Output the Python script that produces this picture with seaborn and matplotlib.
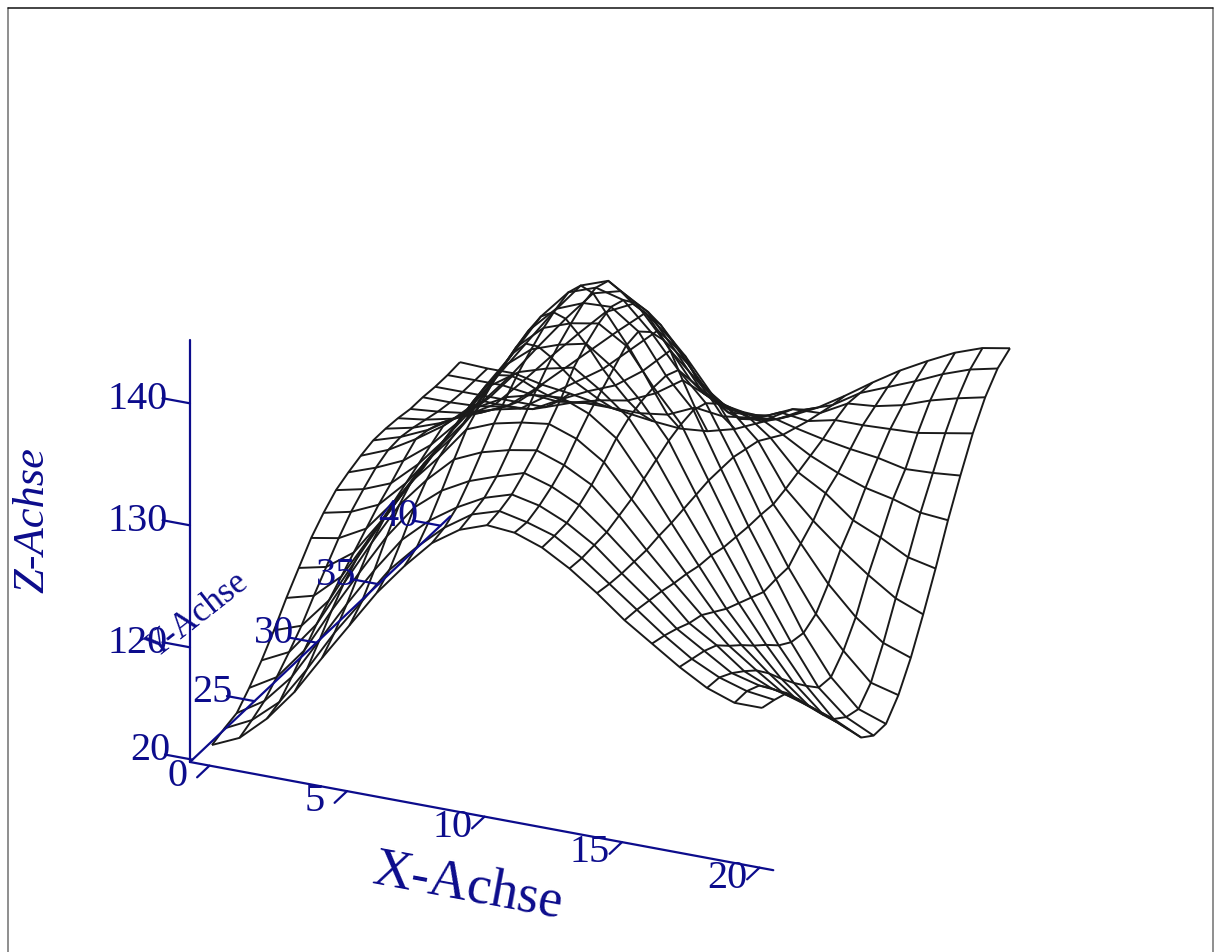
import matplotlib
matplotlib.use("Agg")
import matplotlib.pyplot as plt
from matplotlib.lines import Line2D
import numpy as np
import seaborn as sns

x_grid = [0, 1, 2, 3, 4, 5, 6, 7, 8, 9, 10, 11, 12, 13, 14, 15, 16, 17, 18, 19, 20]
y_grid = [20, 21, 22, 23, 24, 25, 26, 27, 28, 29, 30, 31, 32, 33, 34, 35, 36, 37, 38, 39, 40]

# one row per x value, one entry per y value
z_values = [
    [112.1, 112.5, 112.8, 113.9, 115.2, 116.7, 118.4, 119.9, 121.4, 122.5, 123.4, 123.9, 124.3, 124.6, 124.6, 124.5, 124.3, 124.3, 124.2, 124.2, 124.3],
    [113.1, 113.6, 114.2, 115.2, 116.3, 117.5, 119.0, 120.4, 121.8, 123.0, 123.9, 124.7, 125.2, 125.3, 125.1, 124.8, 124.5, 124.3, 124.2, 124.2, 124.2],
    [115.1, 115.5, 116.6, 117.8, 119.0, 120.0, 121.0, 122.0, 123.0, 124.0, 124.8, 125.7, 126.5, 126.3, 125.9, 125.3, 124.8, 124.4, 124.2, 124.2, 124.2],
    [117.7, 118.6, 120.0, 121.5, 122.8, 123.8, 124.5, 125.0, 125.6, 126.2, 126.8, 127.4, 128.0, 127.7, 127.0, 126.2, 125.5, 124.8, 124.2, 123.9, 123.7],
    [120.9, 122.0, 123.4, 125.0, 126.5, 127.5, 128.0, 128.3, 128.6, 129.0, 129.3, 129.7, 130.0, 129.5, 128.3, 127.2, 126.0, 125.0, 124.2, 123.7, 123.4],
    [124.0, 125.0, 126.6, 128.4, 130.0, 131.0, 131.5, 131.7, 132.0, 132.4, 132.8, 133.1, 133.0, 132.0, 130.6, 129.0, 127.5, 126.2, 125.0, 124.0, 123.0],
    [127.1, 128.0, 129.5, 131.2, 132.5, 133.4, 134.0, 134.3, 134.8, 135.3, 135.8, 136.2, 136.0, 134.8, 133.0, 131.0, 129.0, 127.3, 125.6, 124.0, 122.7],
    [129.7, 130.3, 131.5, 133.0, 134.6, 136.1, 137.0, 137.8, 138.4, 139.0, 139.4, 139.6, 139.0, 137.5, 135.3, 133.0, 130.5, 128.2, 126.0, 124.0, 122.4],
    [132.0, 132.3, 133.0, 134.2, 135.6, 137.0, 138.2, 139.3, 140.2, 141.0, 141.6, 142.0, 141.6, 140.0, 137.5, 135.0, 132.5, 129.8, 127.0, 124.3, 122.2],
    [133.5, 133.8, 134.2, 135.0, 136.2, 137.5, 138.8, 140.0, 141.0, 141.8, 142.5, 142.8, 142.4, 140.6, 138.6, 136.9, 134.5, 131.9, 128.5, 125.3, 122.4],
    [134.3, 134.5, 134.9, 135.7, 136.6, 137.8, 139.0, 140.5, 141.5, 142.2, 142.6, 142.2, 141.0, 139.3, 137.3, 135.0, 132.8, 129.8, 127.5, 125.0, 123.0],
    [134.1, 134.0, 134.4, 135.0, 135.8, 137.0, 138.1, 139.0, 139.9, 140.8, 141.0, 140.0, 138.4, 136.5, 134.5, 132.0, 130.0, 128.2, 126.8, 125.3, 124.0],
    [133.3, 133.3, 133.4, 133.9, 134.6, 135.5, 136.5, 137.2, 137.6, 137.8, 137.8, 137.3, 135.5, 133.5, 131.8, 130.0, 128.5, 127.5, 126.5, 125.6, 124.9],
    [132.0, 131.9, 132.0, 132.1, 132.5, 132.9, 133.6, 134.2, 134.8, 135.2, 135.4, 135.0, 134.0, 132.5, 131.4, 130.2, 129.2, 128.5, 127.8, 126.8, 126.0],
    [130.4, 130.2, 130.1, 130.1, 130.1, 130.3, 130.4, 130.6, 130.8, 131.0, 131.0, 131.0, 130.7, 130.4, 129.7, 129.0, 128.6, 128.2, 127.9, 127.6, 127.4],
    [128.6, 128.5, 128.3, 128.1, 127.8, 127.6, 127.3, 127.2, 126.9, 126.8, 126.7, 126.7, 126.6, 126.9, 127.3, 127.7, 128.1, 128.7, 129.1, 129.0, 128.9],
    [127.1, 126.8, 126.4, 125.9, 125.6, 124.9, 124.2, 123.7, 123.2, 122.7, 122.8, 122.8, 123.8, 124.7, 126.0, 126.7, 127.7, 128.7, 129.3, 129.9, 130.3],
    [125.6, 125.3, 125.0, 124.5, 123.5, 122.6, 121.6, 120.7, 119.7, 119.0, 118.8, 119.4, 120.9, 122.8, 124.2, 125.9, 127.4, 128.8, 129.8, 130.8, 131.5],
    [124.3, 124.2, 123.6, 122.8, 121.9, 120.7, 119.3, 118.0, 116.8, 115.7, 115.6, 116.8, 118.6, 121.1, 123.2, 125.4, 126.9, 128.9, 130.6, 131.8, 132.6],
    [123.5, 123.5, 123.0, 121.8, 120.4, 119.0, 117.5, 116.0, 114.5, 113.7, 113.4, 114.6, 116.9, 119.6, 122.0, 124.7, 127.0, 129.3, 131.2, 132.6, 133.4],
    [123.5, 123.2, 122.8, 121.3, 119.7, 118.1, 116.6, 115.0, 113.4, 112.6, 112.6, 114.0, 116.1, 118.7, 121.5, 124.5, 127.2, 129.7, 131.7, 133.1, 133.8],
]

x_ticks = [0, 5, 10, 15, 20]
y_ticks = [20, 25, 30, 35, 40]
z_ticks = [120, 130, 140]

AXIS_BLUE = "#0c0c8c"
W, H = 1214, 952
XLIM, YLIM, ZLIM = (-0.71, 20.5), (19.8, 40.8), (110.6, 145.2)

sns.set_theme(style="white", rc={"axes.grid": False})
plt.rcParams["font.family"] = ["Liberation Serif", "DejaVu Serif"]

fig = plt.figure(figsize=(W / 100, H / 100), dpi=100, facecolor="white")
# square 3d axes, sized and placed so the box lands where the reference has it
ax = fig.add_axes([98.3 / W, -43.7 / H, 1000 / W, 1000 / H], projection="3d")
ax.set_proj_type("ortho")
ax.view_init(elev=24.73, azim=-66.09)
ax.set_xlim(*XLIM)
ax.set_ylim(*YLIM)
ax.set_zlim(*ZLIM)
ax.set_box_aspect((638, 642.4, 464.7), zoom=0.988)
ax.set_axis_off()
ax.patch.set_alpha(0)

X, Y = np.meshgrid(x_grid, y_grid, indexing="ij")
ax.plot_wireframe(X, Y, np.array(z_values), rstride=1, cstride=1, color="#1a1a1a", linewidth=1.4)

# hand made axes, drawn in data space
axis_kw = dict(color=AXIS_BLUE, linewidth=1.6)
ax.plot(XLIM, [YLIM[0]] * 2, [ZLIM[0]] * 2, **axis_kw)
ax.plot([XLIM[0]] * 2, YLIM, [ZLIM[0]] * 2, **axis_kw)
ax.plot([XLIM[0]] * 2, [YLIM[0]] * 2, ZLIM, **axis_kw)

label_kw = dict(color=AXIS_BLUE, fontsize=29, va="center")
for v in x_ticks:
    ax.plot([v, v], [YLIM[0], YLIM[0] - 1], [ZLIM[0]] * 2, **axis_kw)
    ax.text(v - 0.72, YLIM[0] - 1, ZLIM[0] - 0.2, str(v), ha="center", **label_kw)
for v in y_ticks:
    ax.plot([XLIM[0], XLIM[0] - 1], [v, v], [ZLIM[0]] * 2, **axis_kw)
    ax.text(XLIM[0] - 0.8, v, ZLIM[0] + 0.4, str(v), ha="right", **label_kw)
for v in z_ticks:
    ax.plot([XLIM[0], XLIM[0] - 1], [YLIM[0]] * 2, [v, v], **axis_kw)
    ax.text(XLIM[0] - 0.82, YLIM[0], v, str(v), ha="right", **label_kw)

fig.text(468 / W, 1 - 888 / H, "X-Achse", color=AXIS_BLUE, fontsize=39, rotation=-10.5, ha="center", va="center")
fig.text(198 / W, 1 - 615 / H, "Y-Achse", color=AXIS_BLUE, fontsize=25, rotation=38, ha="center", va="center")
fig.text(32 / W, 1 - 520 / H, "Z-Achse", color=AXIS_BLUE, fontsize=32, rotation=90, ha="center", va="center", style="italic")

# page frame: no line along the bottom in the reference
fig.add_artist(Line2D([8 / W, 8 / W], [0, 1 - 8 / H], color="#707070", linewidth=1.1))
fig.add_artist(Line2D([1213 / W, 1213 / W], [0, 1 - 8 / H], color="#707070", linewidth=1.1))
fig.add_artist(Line2D([8 / W, 1213 / W], [1 - 8 / H, 1 - 8 / H], color="#111111", linewidth=1.1))

fig.savefig("out.png", dpi=100)
